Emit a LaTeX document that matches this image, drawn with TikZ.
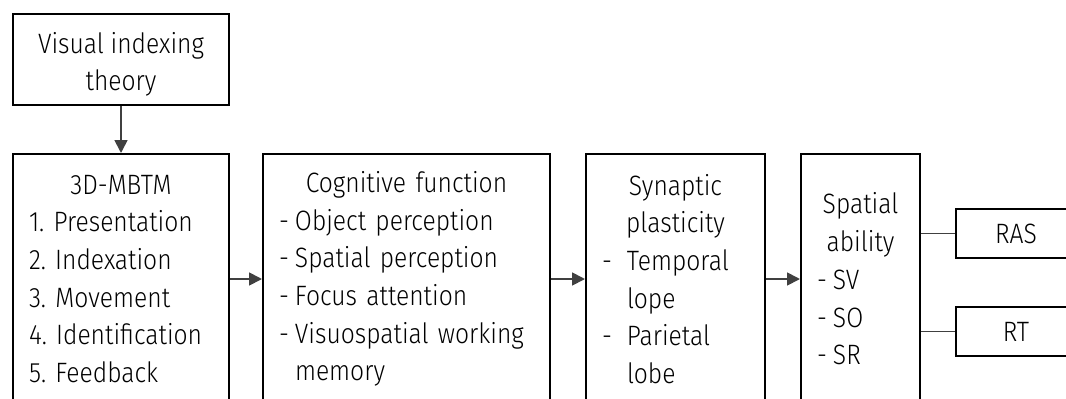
\documentclass[tikz,border=0pt]{standalone}
\usepackage{fontspec}
\setmainfont{Fira Sans Light}[FakeStretch=0.88]
\usetikzlibrary{positioning,arrows.meta}

\begin{document}
\begin{tikzpicture}[x=1pt, y=-1pt,
  box/.style = {shape=rectangle, draw=black, line width=2pt,
    align=left, inner xsep=16pt, inner ysep=0pt,
    font=\fontsize{28}{37.7}\selectfont\frenchspacing},
  mainbox/.style = {box, minimum height=250pt, anchor=north west},
  link/.style = {draw=black!75, line width=1.8pt},
  arr/.style = {link, -{Triangle[length=13pt,width=13pt]}}]
  \useasboundingbox (0,0) rectangle (1066,399);
  \clip (0,0) rectangle (1066,399);
  \node[box, anchor=north west, minimum width=216pt, minimum height=91pt,
    align=center] (theory) at (12,13)
    {\rule{0pt}{31pt}Visual indexing\\theory};
  \node[mainbox, text width=184pt] (mbtm) at (12,153)
    {{\centering 3D-MBTM\par}1. Presentation\\2. Indexation\\3. Movement\\
     4. Identification\\5. Feedback};
  \node[mainbox, text width=255pt] (cog) at (262,153)
    {{\centering Cognitive function\par}\makebox[16pt][l]{-}Object perception\\
     \makebox[16pt][l]{-}Spatial perception\\\makebox[16pt][l]{-}Focus attention\\
     \makebox[16pt][l]{-}Visuospatial working\\\hspace*{16pt}memory};
  \node[mainbox, text width=147pt] (syn) at (585,153)
    {{\centering Synaptic\\plasticity\par}\makebox[25pt][l]{-}Temporal\\
     \hspace*{25pt}lope\\\makebox[25pt][l]{-}Parietal\\\hspace*{25pt}lobe};
  \node[mainbox, text width=87pt] (spa) at (800,153)
    {{\centering Spatial\\ability\par}\makebox[16pt][l]{-}SV\\
     \makebox[16pt][l]{-}SO\\\makebox[16pt][l]{-}SR};
  \node[box, anchor=north west, minimum width=120pt, minimum height=49pt,
    align=center] (ras) at (955,208) {RAS};
  \node[box, anchor=north west, minimum width=120pt, minimum height=49pt,
    align=center] (rt) at (955,306) {RT};
  % arrows
  \draw[arr] (theory) -- (mbtm);
  \draw[arr] (mbtm) -- (cog);
  \draw[arr] (cog) -- (syn);
  \draw[arr] (syn) -- (spa);
  \draw[link] (spa.east |- ras) -- (ras.west);
  \draw[link] (spa.east |- rt) -- (rt.west);
\end{tikzpicture}
\end{document}
